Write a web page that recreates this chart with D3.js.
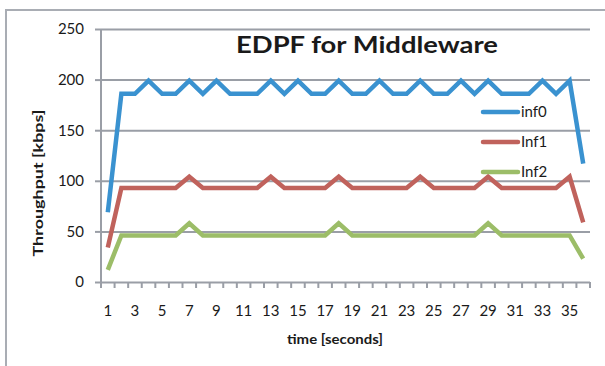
<!DOCTYPE html>
<html>
<head>
<meta charset="utf-8">
<script src="https://cdn.jsdelivr.net/npm/d3@7/dist/d3.min.js"></script>
<style>
  html, body { margin: 0; padding: 0; background: #fff; }
  svg { display: block; }
  text { font-family: Lato, "Open Sans", sans-serif; fill: #1a1a1a; }
</style>
</head>
<body>
<svg id="chart" width="605" height="366"></svg>
<script>
// Time steps (seconds)
const seconds = d3.range(1, 37);

// Throughput per interface, kbps
const inf0 = [69, 186, 186, 199, 186, 186, 199, 186, 199, 186, 186, 186, 199, 186, 199, 186, 186, 199,
              186, 186, 199, 186, 186, 199, 186, 186, 199, 186, 199, 186, 186, 186, 199, 186, 199, 117];
const inf1 = [34, 93, 93, 93, 93, 93, 104, 93, 93, 93, 93, 93, 104, 93, 93, 93, 93, 104,
              93, 93, 93, 93, 93, 104, 93, 93, 93, 93, 104, 93, 93, 93, 93, 93, 104, 59];
const inf2 = [12, 46, 46, 46, 46, 46, 58, 46, 46, 46, 46, 46, 46, 46, 46, 46, 46, 58,
              46, 46, 46, 46, 46, 46, 46, 46, 46, 46, 58, 46, 46, 46, 46, 46, 46, 23];

const seriesNames = ["inf0", "Inf1", "Inf2"];
const seriesColors = ["#3a92d0", "#c0625c", "#9cbd68"];
const yTicks = [0, 50, 100, 150, 200, 250];
const xTickLabels = seconds.filter(s => s % 2 === 1);

const chartTitle = "EDPF for Middleware";
const xTitle = "time [seconds]";
const yTitle = "Throughput [kbps]";

const svg = d3.select("#chart");
const plot = { left: 101, right: 590, top: 29, bottom: 282 };
const gridColor = "#9a9ea6";

// outer frame
svg.append("rect")
  .attr("x", 6).attr("y", 10)
  .attr("width", 640).attr("height", 400)
  .attr("fill", "#fff")
  .attr("stroke", "#a9adb4").attr("stroke-width", 2);

const x = d3.scaleBand().domain(seconds).range([plot.left, plot.right]).padding(0);
const y = d3.scaleLinear().domain([0, 250]).range([plot.bottom, plot.top]);

// horizontal gridlines + y axis with outward ticks
const yAxis = d3.axisLeft(y).tickValues(yTicks).tickSize(6).tickPadding(11);
const gy = svg.append("g").attr("transform", `translate(${plot.left},0)`).call(yAxis);
gy.select(".domain").remove();
gy.selectAll(".tick line").attr("stroke", gridColor).attr("stroke-width", 2);
gy.selectAll(".tick text").attr("font-size", 15).attr("font-family", "Lato").attr("fill", "#1a1a1a");
gy.selectAll(".tick").append("line")
  .attr("x1", 0).attr("x2", plot.right - plot.left)
  .attr("stroke", gridColor).attr("stroke-width", 2);

// vertical axis line
svg.append("line")
  .attr("x1", plot.left).attr("x2", plot.left)
  .attr("y1", plot.top).attr("y2", plot.bottom + 6)
  .attr("stroke", gridColor).attr("stroke-width", 2);

// x axis: tick marks between categories, labels on odd seconds
const boundaries = seconds.map(s => x(s)).concat([x(seconds[seconds.length - 1]) + x.bandwidth()]);
const gx = svg.append("g");
gx.selectAll("line.tk").data(boundaries).join("line")
  .attr("class", "tk")
  .attr("x1", d => d).attr("x2", d => d)
  .attr("y1", plot.bottom).attr("y2", plot.bottom + 6)
  .attr("stroke", gridColor).attr("stroke-width", 2);
gx.selectAll("text").data(xTickLabels).join("text")
  .attr("x", d => x(d) + x.bandwidth() / 2)
  .attr("y", 316)
  .attr("text-anchor", "middle")
  .attr("font-size", 15)
  .text(d => d);

// series lines
const line = d3.line()
  .x((d, i) => x(seconds[i]) + x.bandwidth() / 2)
  .y(d => y(d));
[inf0, inf1, inf2].forEach((vals, k) => {
  svg.append("path")
    .datum(vals)
    .attr("d", line)
    .attr("fill", "none")
    .attr("stroke", seriesColors[k])
    .attr("stroke-width", 4.5)
    .attr("stroke-linejoin", "miter");
});

// legend
const legend = svg.append("g").attr("transform", "translate(483,112)");
seriesNames.forEach((name, k) => {
  const row = legend.append("g").attr("transform", `translate(0,${k * 30})`);
  row.append("line").attr("x1", 0).attr("x2", 35)
    .attr("stroke", seriesColors[k]).attr("stroke-width", 4.5).attr("stroke-linecap", "round");
  row.append("text").attr("x", 38).attr("y", 0).attr("dy", "0.35em")
    .attr("font-size", 15).text(name);
});

// titles (stretched to the wide face of the chart's typeface)
svg.append("text")
  .attr("x", 367).attr("y", 53)
  .attr("text-anchor", "middle")
  .attr("font-size", 23).attr("font-weight", 700)
  .attr("textLength", 262).attr("lengthAdjust", "spacingAndGlyphs")
  .text(chartTitle);

svg.append("text")
  .attr("x", 335).attr("y", 344)
  .attr("text-anchor", "middle")
  .attr("font-size", 14).attr("font-weight", 700)
  .attr("textLength", 96).attr("lengthAdjust", "spacingAndGlyphs")
  .text(xTitle);

svg.append("text")
  .attr("transform", "translate(43,183) rotate(-90)")
  .attr("text-anchor", "middle")
  .attr("font-size", 14).attr("font-weight", 700)
  .attr("textLength", 147).attr("lengthAdjust", "spacingAndGlyphs")
  .text(yTitle);
</script>
</body>
</html>
